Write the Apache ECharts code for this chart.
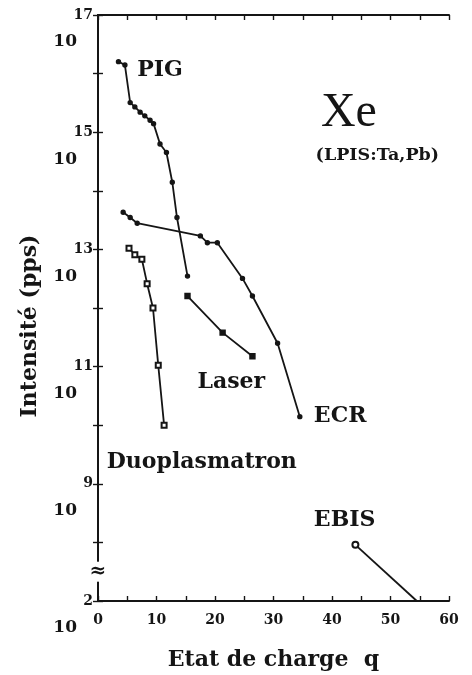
<!DOCTYPE html>
<html>
<head>
<meta charset="utf-8">
<script src="https://cdn.jsdelivr.net/npm/echarts@6/dist/echarts.min.js"></script>
<style>
  html, body { margin: 0; padding: 0; background: #fff; }
  #chart { width: 472px; height: 675px; }
</style>
</head>
<body>
<div id="chart"></div>
<script>
// Charge state q and beam intensity (particles per second) for each ion source, Xe
const pigQ = [3.5, 4.6, 5.5, 6.3, 7.2, 8.0, 8.9, 9.5, 10.6, 11.7, 12.7, 13.5, 15.3];
const pigI = [1.6e16, 1.4e16, 3.2e15, 2.7e15, 2.2e15, 1.9e15, 1.6e15, 1.4e15, 6.3e14, 4.5e14, 1.4e14, 3.5e13, 3.5e12];

const ecrQ = [4.3, 5.5, 6.7, 17.5, 18.7, 20.4, 24.7, 26.4, 30.7, 34.5];
const ecrI = [4.3e13, 3.5e13, 2.8e13, 1.7e13, 1.3e13, 1.3e13, 3.2e12, 1.6e12, 2.5e11, 1.4e10];

const laserQ = [15.3, 21.3, 26.4];
const laserI = [1.6e12, 3.8e11, 1.5e11];

const duoQ = [5.3, 6.3, 7.5, 8.4, 9.4, 10.3, 11.3];
const duoI = [1.05e13, 8.1e12, 6.8e12, 2.6e12, 1.0e12, 1.05e11, 1.0e10];

const ebisQ = [44, 54.5];
const ebisI = [9.1e7, 1e2];

// Axis tick labels
const xTickLabels = [0, 10, 20, 30, 40, 50, 60];
const yLabelDecades = [17, 15, 13, 11, 9];
const yBottomDecade = 2;

// Vertical scale: log10 of intensity; below the break the range 10^2..10^7.5
// is squeezed into the last half decade of the axis.
const AXIS_MIN = 7, AXIS_MAX = 17, BREAK_AT = 7.5;
function toAxis(v) {
  const lg = Math.log10(v);
  if (lg >= BREAK_AT) return lg;
  return AXIS_MIN + (lg - yBottomDecade) / (BREAK_AT - yBottomDecade) * (BREAK_AT - AXIS_MIN);
}
function pairs(qs, vals) { return qs.map((q, i) => [q, toAxis(vals[i])]); }

const SERIF = 'DejaVu Serif';
const INK = '#151515';

const chart = echarts.init(document.getElementById('chart'), null, { renderer: 'canvas' });

function lineSeries(name, data, symbol, size) {
  return {
    name, type: 'line', data,
    symbol, symbolSize: size, showSymbol: true,
    lineStyle: { color: INK, width: 1.8 },
    itemStyle: { color: INK, borderColor: INK, borderWidth: 1.4 },
    z: 3
  };
}

// The EBIS curve runs off the bottom of the frame: no marker at its last point
const ebisData = pairs(ebisQ, ebisI).map((p, i, arr) =>
  i === arr.length - 1 ? { value: p, symbol: 'none' } : p);

const axisLineStyle = { color: INK, width: 2 };
const tickStyle = { color: INK, width: 1.4 };

chart.setOption({
  animation: false,
  backgroundColor: '#fff',
  grid: { left: 98, right: 23, top: 15, bottom: 74, outerBoundsMode: 'none', containLabel: false },
  xAxis: [
    {
      type: 'value', min: 0, max: 60, interval: 5, position: 'bottom',
      axisLine: { lineStyle: axisLineStyle },
      axisTick: { inside: true, length: 5, lineStyle: tickStyle },
      splitLine: { show: false },
      axisLabel: {
        formatter: v => xTickLabels.includes(v) ? String(v) : '',
        margin: 12, color: INK, fontFamily: SERIF, fontSize: 14, fontWeight: 'bold'
      },
      name: 'Etat de charge  q', nameLocation: 'middle', nameGap: 48,
      nameTextStyle: { color: INK, fontFamily: SERIF, fontSize: 22, fontWeight: 'bold' }
    },
    {
      type: 'value', min: 0, max: 60, interval: 5, position: 'top',
      axisLine: { lineStyle: axisLineStyle },
      axisTick: { inside: true, length: 5, lineStyle: tickStyle },
      splitLine: { show: false }, axisLabel: { show: false }
    }
  ],
  yAxis: [
    {
      type: 'value', min: AXIS_MIN, max: AXIS_MAX, interval: 1, position: 'left',
      axisLine: { lineStyle: axisLineStyle },
      axisTick: { inside: true, length: 5, lineStyle: tickStyle },
      splitLine: { show: false },
      axisLabel: {
        margin: 5, color: INK, fontFamily: SERIF, fontWeight: 'bold',
        formatter: v => {
          if (v === AXIS_MIN) return '{s| }\n{e|' + yBottomDecade + '}\n{b|10}';
          if (yLabelDecades.includes(v)) return '{s| }\n{e|' + v + '}\n{b|10}';
          return '';
        },
        rich: {
          s: { fontSize: 2, lineHeight: 34 },
          e: { fontSize: 14, lineHeight: 20, fontFamily: SERIF, fontWeight: 'bold', color: INK },
          b: { fontSize: 17, lineHeight: 34, fontFamily: SERIF, fontWeight: 'bold', color: INK, padding: [0, 16, 0, 0] }
        }
      }
    },
    {
      type: 'value', min: AXIS_MIN, max: AXIS_MAX, interval: 1, position: 'right',
      axisLine: { lineStyle: axisLineStyle },
      axisTick: { inside: true, length: 5, lineStyle: tickStyle },
      splitLine: { show: false }, axisLabel: { show: false }
    }
  ],
  series: [
    lineSeries('PIG', pairs(pigQ, pigI), 'circle', 4),
    lineSeries('ECR', pairs(ecrQ, ecrI), 'circle', 4),
    lineSeries('Laser', pairs(laserQ, laserI), 'rect', 5),
    lineSeries('Duoplasmatron', pairs(duoQ, duoI), 'emptyRect', 5),
    lineSeries('EBIS', ebisData, 'emptyCircle', 6)
  ]
});

// Source names and annotations, anchored at their left edge in data coordinates
const annotations = [
  { text: 'PIG', q: 6.7, lg: 16.06, size: 22 },
  { text: 'Laser', q: 17.0, lg: 10.73, size: 22 },
  { text: 'ECR', q: 36.9, lg: 10.16, size: 22 },
  { text: 'Duoplasmatron', q: 1.5, lg: 9.36, size: 22 },
  { text: 'EBIS', q: 36.9, lg: 8.37, size: 22 }
];

const graphics = annotations.map(a => {
  const p = chart.convertToPixel({ gridIndex: 0 }, [a.q, a.lg]);
  return {
    type: 'text', x: p[0], y: p[1], z: 10,
    style: { text: a.text, fill: INK, font: 'bold ' + a.size + 'px "' + SERIF + '"', align: 'left', verticalAlign: 'middle' }
  };
});

const xePos = chart.convertToPixel({ gridIndex: 0 }, [38.1, 15.32]);
graphics.push({
  type: 'text', x: xePos[0], y: xePos[1], z: 10,
  style: { text: 'Xe', fill: INK, font: '48px "Liberation Serif"', align: 'left', verticalAlign: 'middle' }
});
const subPos = chart.convertToPixel({ gridIndex: 0 }, [37.2, 14.6]);
graphics.push({
  type: 'text', x: subPos[0], y: subPos[1], z: 10,
  style: { text: '(LPIS:Ta,Pb)', fill: INK, font: 'bold 17.5px "' + SERIF + '"', align: 'left', verticalAlign: 'middle' }
});

// Axis break mark on the intensity axis
const brk = chart.convertToPixel({ gridIndex: 0 }, [0, BREAK_AT]);
graphics.push({
  type: 'text', x: brk[0], y: brk[1], z: 12,
  style: { text: '≈', fill: INK, font: 'bold 20px "' + SERIF + '"', align: 'center', verticalAlign: 'middle',
           backgroundColor: '#fff' }
});

// Vertical axis title
graphics.push({
  type: 'text', x: 30, y: 326, rotation: Math.PI / 2, z: 10,
  style: { text: 'Intensité (pps)', fill: INK, font: 'bold 22px "' + SERIF + '"', align: 'center', verticalAlign: 'middle' }
});

chart.setOption({ graphic: graphics });
</script>
</body>
</html>
